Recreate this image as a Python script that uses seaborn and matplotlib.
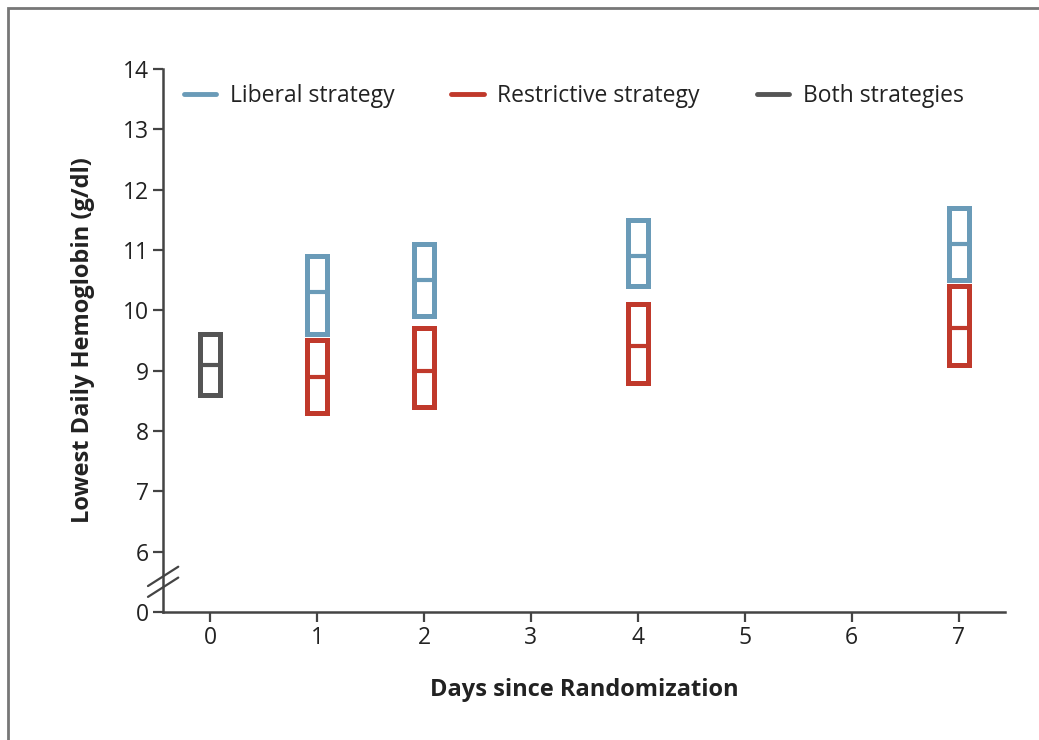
import numpy as np
import pandas as pd
import seaborn as sns
import matplotlib.pyplot as plt
from matplotlib.patches import Rectangle
from matplotlib.lines import Line2D

# 일별 최저 헤모글로빈 (g/dl) - 사분위 범위 + 중앙값
days_both = [0]
both_q1 = [8.6]
both_med = [9.1]
both_q3 = [9.6]

days_arm = [1, 2, 4, 7]
lib_q1 = [9.6, 9.9, 10.4, 10.5]
lib_med = [10.3, 10.5, 10.9, 11.1]
lib_q3 = [10.9, 11.1, 11.5, 11.7]

res_q1 = [8.3, 8.4, 8.8, 9.1]
res_med = [8.9, 9.0, 9.4, 9.7]
res_q3 = [9.5, 9.7, 10.1, 10.4]

x_ticks = [0, 1, 2, 3, 4, 5, 6, 7]
y_ticks = [5, 6, 7, 8, 9, 10, 11, 12, 13, 14]
y_labels = ['0', '6', '7', '8', '9', '10', '11', '12', '13', '14']

BLUE = '#6a9bb8'
RED = '#c0392b'
GRAY = '#555555'
TXT = '#222222'

sns.set_style('ticks')
plt.rcParams['font.family'] = ['Open Sans', 'DejaVu Sans']

fig = plt.figure(figsize=(10.39, 7.40), dpi=100)
ax = fig.add_axes([0.157, 0.173, 0.81, 0.734])

# 그림 테두리
fig.patches.append(Rectangle((8 / 1039, -0.1), 1.2, 1 - 8 / 740 + 0.1, transform=fig.transFigure,
                             fill=False, edgecolor='#777777', linewidth=2))


def draw_boxes(xs, q1, med, q3, color):
    df = pd.DataFrame({'x': xs, 'q1': q1, 'med': med, 'q3': q3})
    w = 0.19
    ax.bar(df['x'], df['q3'] - df['q1'], bottom=df['q1'], width=w, fill=False,
           edgecolor=color, linewidth=3.6)
    ax.hlines(df['med'], df['x'] - w / 2, df['x'] + w / 2, color=color, linewidth=3)


draw_boxes(days_both, both_q1, both_med, both_q3, GRAY)
draw_boxes(days_arm, lib_q1, lib_med, lib_q3, BLUE)
draw_boxes(days_arm, res_q1, res_med, res_q3, RED)

ax.set_xlim(-0.44, 7.43)
ax.set_ylim(5, 14)
ax.set_xticks(x_ticks)
ax.set_yticks(y_ticks)
ax.set_yticklabels(y_labels)
sns.despine(ax=ax)
for s in ['left', 'bottom']:
    ax.spines[s].set_linewidth(1.8)
    ax.spines[s].set_color('#444444')
ax.tick_params(axis='both', length=7, width=1.6, color='#444444', labelsize=16.5, labelcolor=TXT, pad=3)

ax.set_xlabel('Days since Randomization', fontsize=17, fontweight='bold', color=TXT, labelpad=20)
ax.set_ylabel('Lowest Daily Hemoglobin (g/dl)', fontsize=17, fontweight='bold', color=TXT, labelpad=20)

# 축 생략 표시 (//)
for dy in [-0.09, 0.09]:
    ax.plot([-0.018, 0.018], [5.5 + dy - 0.16, 5.5 + dy + 0.16], color='#444444', linewidth=1.6,
            transform=ax.get_yaxis_transform(), clip_on=False)

handles = [Line2D([0], [0], color=BLUE, linewidth=3.5),
           Line2D([0], [0], color=RED, linewidth=3.5),
           Line2D([0], [0], color=GRAY, linewidth=3.5)]
ax.legend(handles, ['Liberal strategy', 'Restrictive strategy', 'Both strategies'],
          loc='upper left', bbox_to_anchor=(0.0, 1.01), ncol=3, frameon=False,
          fontsize=16.5, handlelength=1.4, handletextpad=0.6, columnspacing=2.5,
          labelcolor=TXT)

fig.savefig('out.png', dpi=100)
